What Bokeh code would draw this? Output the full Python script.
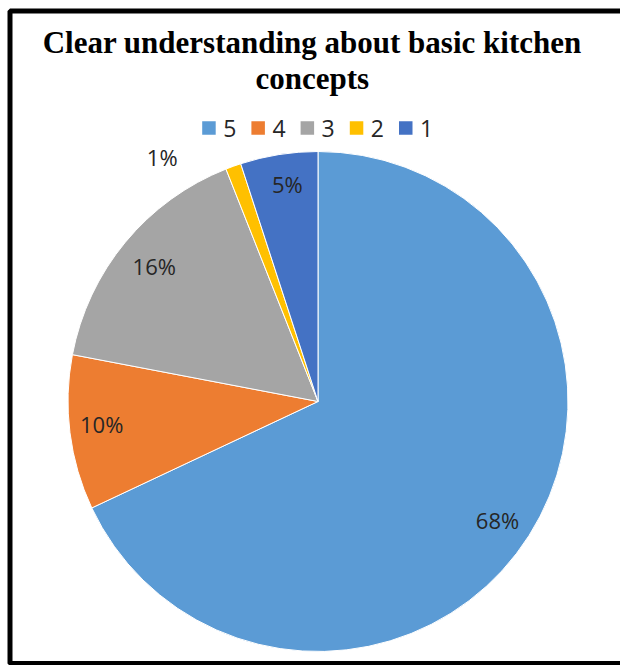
import math
from bokeh.plotting import figure
from bokeh.models import ColumnDataSource, Range1d
from bokeh.core.properties import value
from bokeh.embed import file_html
from bokeh.resources import INLINE

# ---- data ----
title_lines = ["Clear understanding about basic kitchen", "concepts"]
categories = ["5", "4", "3", "2", "1"]
values = [68, 10, 16, 1, 5]
pct_labels = ["68%", "10%", "16%", "1%", "5%"]
colors = ["#5B9BD5", "#ED7D31", "#A5A5A5", "#FFC000", "#4472C4"]

# label placement styling (fraction of radius, angular nudge in degrees)
label_r = [0.86, 0.87, 0.85, 1.16, 0.88]
label_nudge = [-1.0, -1.2, 0.0, 12.7, -1.0]

W, H = 620, 665
p = figure(width=W, height=H, output_backend="svg", toolbar_location=None,
           x_axis_type=None, y_axis_type=None, min_border=0,
           x_range=Range1d(0, W), y_range=Range1d(0, H))
p.outline_line_color = None
p.grid.visible = False
p.background_fill_color = "white"
p.border_fill_color = "white"

# pie geometry (pixel units)
cx, cy, R = 317.5, 264.0, 250.0

total = float(sum(values))
starts, ends, mids = [], [], []
a = math.pi / 2
for v in values:
    sweep = 2 * math.pi * v / total
    starts.append(a)
    ends.append(a - sweep)
    mids.append(a - sweep / 2)
    a -= sweep

src = ColumnDataSource(dict(start=starts, end=ends, color=colors, cat=categories))
p.wedge(x=cx, y=cy, radius=R, start_angle="end", end_angle="start",
        fill_color="color", line_color="white", line_width=1, source=src)

# percentage labels
lx, ly = [], []
for m, rf, nd in zip(mids, label_r, label_nudge):
    ang = m + math.radians(nd)
    lx.append(cx + R * rf * math.cos(ang))
    ly.append(cy + R * rf * math.sin(ang))
p.text(x=lx, y=ly, text=pct_labels, text_font=value("Open Sans"),
       text_font_size="22px", text_color="#262626",
       text_align="center", text_baseline="middle")

# title
p.text(x=[311.7, 311.7], y=[H - 41.7, H - 77.7], text=title_lines,
       text_font=value("Liberation Serif"), text_font_style="bold",
       text_font_size="31px", text_color="black",
       text_align="center", text_baseline="alphabetic")

# legend
leg_y = H - 127.5
sq = 13.5
step = 49.2
x0 = 201.7
sx = [x0 + i * step + sq / 2 for i in range(len(categories))]
p.rect(x=sx, y=[leg_y] * len(categories), width=sq, height=sq,
       fill_color=colors, line_color=None)
p.text(x=[x + sq / 2 + 7.5 for x in sx], y=[leg_y] * len(categories),
       text=categories, text_font=value("Open Sans"), text_font_size="23px",
       text_color="#262626", text_align="left", text_baseline="middle")

# outer border
p.quad(left=[9.5], right=[W + 10], top=[H - 10.5], bottom=[2.0],
       fill_color=None, line_color="black", line_width=5)

open("out.html", "w").write(file_html(p, INLINE))
